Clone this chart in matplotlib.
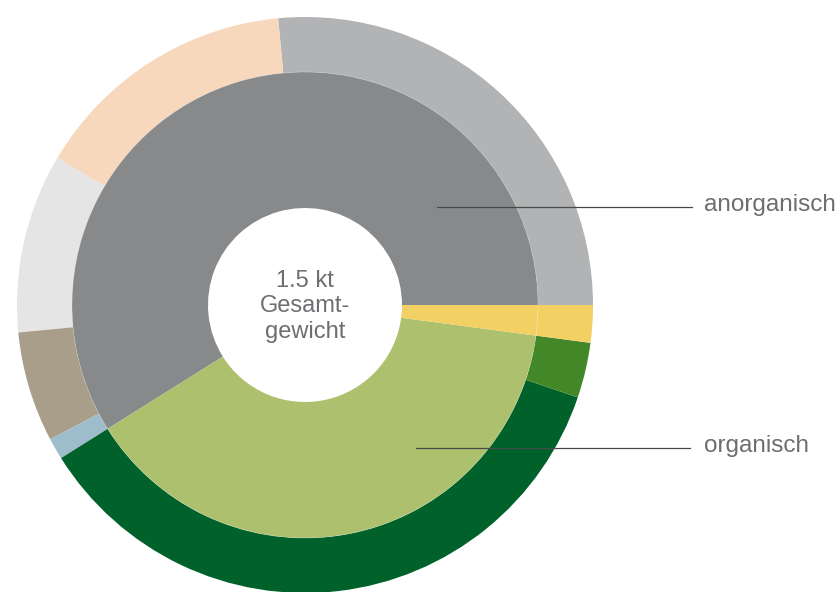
import matplotlib
matplotlib.use('Agg')
import matplotlib.pyplot as plt

# outer ring: sub-fractions (percent of total weight)
outer_vals = [26.5, 15.0, 10.05, 6.2, 1.2, 35.9, 3.1, 2.1]
outer_colors = ['#b2b3b5', '#f8d8bd', '#e5e5e5', '#a89e8a', '#9dbdcc',
                '#00622a', '#438828', '#f3d064']

# inner ring: main groups
inner_labels = ['anorganisch', 'organisch', '']
inner_vals = [58.95, 39.0, 2.1]
inner_colors = ['#88898b', '#adc06e', '#f3d064']

center_text = '1.5 kt\nGesamt-\ngewicht'
text_color = '#6d6e71'

W, H = 838, 592
cx, cy, R = 305, 305, 288

fig = plt.figure(figsize=(W / 100, H / 100), dpi=100)
ax = fig.add_axes([(cx - R) / W, (H - cy - R) / H, 2 * R / W, 2 * R / H])

r_mid = 233 / R
r_hole = 97 / R

ax.pie(outer_vals, colors=outer_colors, startangle=0, radius=1.0,
       wedgeprops=dict(width=1.0 - r_mid, edgecolor='none'))
ax.pie(inner_vals, colors=inner_colors, startangle=0, radius=r_mid,
       wedgeprops=dict(width=r_mid - r_hole, edgecolor='none'))

# faint seam between the rings
seam = plt.Circle((0, 0), r_mid, fill=False, color='white', lw=0.5, alpha=0.25)
ax.add_patch(seam)

ax.text(0, -0.005, center_text, ha='center', va='center', fontsize=17,
        color=text_color, family='Liberation Sans', linespacing=1.22)


def px(x, y):
    return (x - cx) / R, (cy - y) / R


# leader lines and labels
for name, (x0, y0), x1 in [(inner_labels[0], (437, 207), 692),
                           (inner_labels[1], (416, 448), 690)]:
    a = px(x0, y0)
    b = px(x1, y0)
    ax.plot([a[0], b[0]], [a[1], b[1]], color='#4a4a4a', lw=0.9,
            clip_on=False)
    t = px(704, y0 - 2)
    ax.text(t[0], t[1], name, ha='left', va='center', fontsize=17.5,
            color=text_color, family='Liberation Sans', clip_on=False)

ax.set_xlim(-1, 1)
ax.set_ylim(-1, 1)
ax.set_aspect('equal')
ax.axis('off')

fig.savefig('out.png', dpi=100, facecolor='white')
